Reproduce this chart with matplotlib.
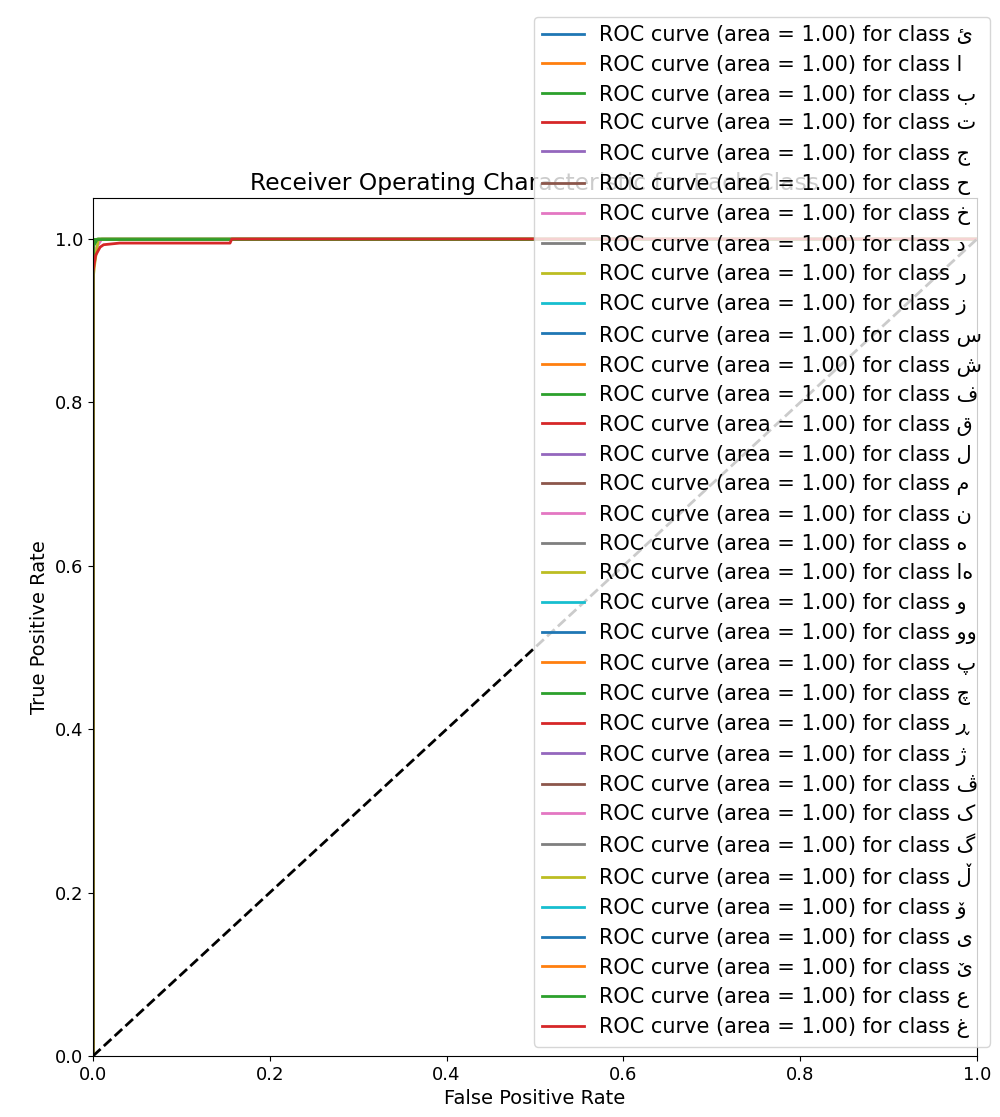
import matplotlib
matplotlib.use("Agg")
import matplotlib.pyplot as plt

plt.rcParams['font.family'] = ['DejaVu Sans', 'Noto Sans']
plt.rcParams['font.size'] = 14
plt.rcParams['xtick.labelsize'] = 13
plt.rcParams['ytick.labelsize'] = 13

classes = ['ئ', 'ا', 'ب', 'ت', 'ج', 'ح', 'خ', 'د', 'ر', 'ز', 'س', 'ش', 'ف', 'ق',
           'ل', 'م', 'ن', 'ه', 'اه', 'و', 'وو', 'پ', 'چ', 'ڕ', 'ژ', 'ڤ', 'ک', 'گ',
           'ڵ', 'ۆ', 'ی', 'ێ', 'ع', 'غ']
areas = [1.00] * len(classes)

# default (perfect) ROC curve
perfect_fpr = [0.0, 0.0, 1.0]
perfect_tpr = [0.0, 1.0, 1.0]

# classes with slightly imperfect curves (index -> (fpr, tpr))
special = {
    8: ([0.0, 0.0, 0.002, 0.004, 0.006, 1.0], [0.0, 0.95, 0.97, 0.985, 1.0, 1.0]),
    6: ([0.0, 0.0, 0.004, 0.01, 1.0], [0.0, 0.97, 0.99, 1.0, 1.0]),
    12: ([0.0, 0.0, 0.005, 1.0], [0.0, 0.99, 1.0, 1.0]),
    33: ([0.0, 0.0, 0.003, 0.008, 0.012, 0.03, 0.155, 0.157, 1.0],
         [0.0, 0.96, 0.98, 0.99, 0.993, 0.995, 0.995, 1.0, 1.0]),
}

fig = plt.figure(figsize=(10, 11.17), dpi=100)
ax = fig.add_axes([0.093, 0.0546, 0.884, 0.768])

for i, (c, a) in enumerate(zip(classes, areas)):
    fpr, tpr = special.get(i, (perfect_fpr, perfect_tpr))
    ax.plot(fpr, tpr, lw=2, color=f'C{i % 10}',
            label=f'ROC curve (area = {a:.2f}) for class {c}')

ax.plot([0, 1], [0, 1], 'k--', lw=2)
ax.set_xlim(0.0, 1.0)
ax.set_ylim(0.0, 1.05)
ax.set_xlabel('False Positive Rate')
ax.set_ylabel('True Positive Rate')
ax.set_title('Receiver Operating Characteristic for Each Class')
ax.legend(loc='lower right', bbox_to_anchor=(0.99, 0.063),
          bbox_transform=fig.transFigure, borderaxespad=0,
          fontsize=15, labelspacing=0.45, handletextpad=0.7)

fig.savefig('out.png', dpi=100)
